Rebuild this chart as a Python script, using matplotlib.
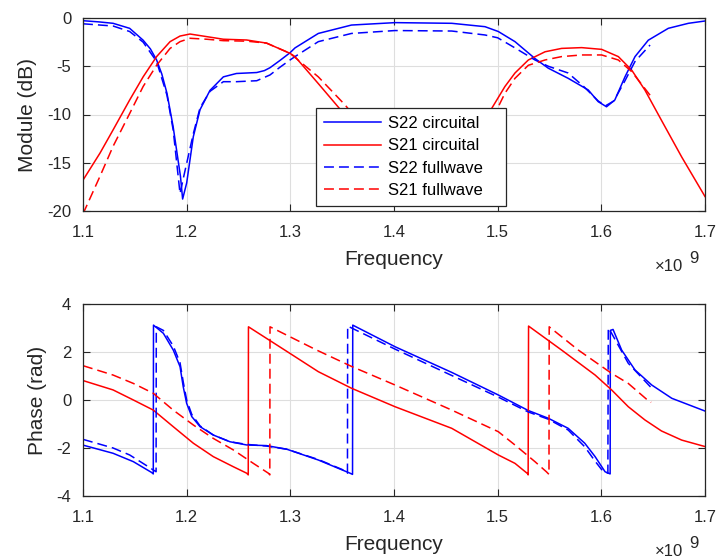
"""Two-panel S-parameter comparison: circuit model vs full-wave simulation."""

import matplotlib
matplotlib.use("Agg")
from matplotlib import pyplot as plt

# --- module (dB) ---
f_s22c = [1.100, 1.115, 1.129, 1.145, 1.158, 1.165, 1.171, 1.176, 1.181, 1.187, 1.194, 1.1961, 1.200, 1.2064, 1.2129, 1.2225,
          1.2354, 1.248, 1.258, 1.2676, 1.275, 1.2804, 1.290, 1.2997, 1.3045, 1.327, 1.359, 1.401, 1.4557, 1.4878, 1.5006,
          1.5167, 1.536, 1.5488, 1.568, 1.5874, 1.597, 1.605, 1.613, 1.6228, 1.6325, 1.6453, 1.6646, 1.684, 1.700]
s22c_db = [-0.28, -0.4, -0.55, -1.07, -2.3, -3.2, -4.35, -5.8, -7.8, -11.3, -16.4, -18.76, -17.1, -12.3, -9.5, -7.5,
           -6.1, -5.75, -5.7, -5.65, -5.45, -5.15, -4.4, -3.6, -3.1, -1.6, -0.73, -0.48, -0.55, -0.9, -1.4,
           -2.45, -4.2, -5.2, -6.25, -7.46, -8.67, -9.2, -8.5, -6.1, -4.0, -2.3, -1.07, -0.55, -0.31]

f_s21c = [1.100, 1.1164, 1.129, 1.145, 1.158, 1.171, 1.184, 1.1936, 1.2032, 1.2193, 1.2354, 1.2579, 1.277, 1.2997,
          1.3045, 1.327, 1.346, 1.37, 1.42, 1.47, 1.4943, 1.507, 1.5167, 1.5296, 1.5457, 1.5617, 1.581, 1.6003,
          1.6164, 1.6293, 1.642, 1.658, 1.6775, 1.700]
s21c_db = [-16.8, -14.0, -11.6, -8.5, -6.1, -4.0, -2.45, -1.87, -1.66, -1.93, -2.2, -2.28, -2.6, -3.66,
           -4.0, -6.8, -9.2, -12.2, -16.0, -13.0, -9.36, -7.1, -5.7, -4.35, -3.5, -3.15, -3.07, -3.25,
           -4.0, -5.4, -7.46, -10.6, -14.4, -18.5]

f_s22f = [1.100, 1.129, 1.145, 1.158, 1.171, 1.181, 1.187, 1.1936, 1.197, 1.2064, 1.2129, 1.2225, 1.2354, 1.248,
          1.2676, 1.2804, 1.290, 1.2997, 1.3045, 1.327, 1.359, 1.401, 1.4557, 1.4878, 1.500, 1.5167, 1.536, 1.5488,
          1.568, 1.583, 1.597, 1.604, 1.612, 1.6228, 1.6325, 1.647]
s22f_db = [-0.6, -0.83, -1.4, -2.5, -4.5, -8.0, -11.6, -18.2, -16.5, -12.0, -9.3, -7.6, -6.6, -6.6,
           -6.5, -5.9, -5.1, -4.35, -4.0, -2.45, -1.6, -1.3, -1.35, -1.76, -2.05, -3.1, -4.35, -5.0,
           -5.7, -7.1, -8.6, -9.1, -8.6, -6.5, -4.5, -2.8]

f_s21f = [1.100, 1.1164, 1.129, 1.145, 1.158, 1.171, 1.184, 1.1936, 1.2032, 1.2193, 1.2354, 1.2579, 1.277, 1.2997,
          1.327, 1.3527, 1.38, 1.42, 1.47, 1.5006, 1.507, 1.5167, 1.5296, 1.5457, 1.5617, 1.581, 1.6003, 1.6164,
          1.6293, 1.647]
s21f_db = [-20.3, -16.4, -13.3, -9.9, -7.1, -4.9, -3.15, -2.45, -2.1, -2.2, -2.35, -2.4, -2.6, -3.66,
           -6.1, -9.0, -12.5, -15.0, -12.5, -9.2, -7.8, -6.25, -4.9, -4.35, -4.0, -3.83, -3.83, -4.35,
           -5.56, -8.0]

# --- phase (rad) ---
f_p22c = [1.100, 1.129, 1.1486, 1.1662, 1.1678, 1.1680, 1.1775, 1.1871, 1.1936, 1.1967, 1.200, 1.2049, 1.2129,
          1.2257, 1.2418, 1.258, 1.277, 1.2965, 1.327, 1.3576, 1.3600, 1.3602, 1.401, 1.4557, 1.5006, 1.5296,
          1.5488, 1.568, 1.584, 1.594, 1.6036, 1.6085, 1.6087, 1.6113, 1.6196, 1.6325, 1.6486, 1.668, 1.700]
p22c = [-1.88, -2.22, -2.57, -3.02, -3.08, 3.12, 2.78, 2.08, 1.39, 0.55, -0.14, -0.69, -1.11,
        -1.46, -1.74, -1.875, -1.9, -2.05, -2.5, -3.05, -3.1, 3.12, 2.22, 1.15, 0.21, -0.44,
        -0.76, -1.18, -1.8, -2.36, -2.99, -3.08, 2.9, 2.94, 2.08, 1.25, 0.625, 0.07, -0.46]

f_p21c = [1.100, 1.129, 1.1486, 1.1678, 1.187, 1.2064, 1.2257, 1.245, 1.2579, 1.2594, 1.2596, 1.2997, 1.327, 1.359,
          1.401, 1.4557, 1.5006, 1.5167, 1.5292, 1.5294, 1.5298, 1.5617, 1.594, 1.6099, 1.626, 1.642, 1.658,
          1.6775, 1.700]
p21c = [0.81, 0.42, 0.0, -0.42, -1.11, -1.8, -2.36, -2.78, -3.05, -3.12, 3.05, 1.94, 1.18, 0.49,
        -0.28, -1.18, -2.29, -2.64, -3.08, -3.12, 3.08, 2.08, 1.04, 0.42, -0.28, -0.83, -1.29,
        -1.67, -1.94]

f_p22f = [1.100, 1.129, 1.145, 1.163, 1.1705, 1.1707, 1.1775, 1.1871, 1.1936, 1.1967, 1.200, 1.2049, 1.2129,
          1.2257, 1.2418, 1.258, 1.277, 1.2965, 1.327, 1.353, 1.3551, 1.3553, 1.401, 1.5006, 1.5296, 1.5488,
          1.568, 1.584, 1.594, 1.6003, 1.6063, 1.6067, 1.609, 1.626, 1.6486]
p22f = [-1.64, -2.0, -2.29, -2.78, -2.99, 3.05, 2.9, 2.25, 1.55, 0.75, 0.0, -0.6, -1.08,
        -1.46, -1.74, -1.85, -1.92, -2.05, -2.48, -2.95, -3.05, 3.08, 2.12, 0.12, -0.5, -0.8,
        -1.25, -1.95, -2.55, -2.9, -3.05, 3.0, 2.85, 1.53, 0.49]

f_p21f = [1.100, 1.129, 1.1486, 1.1678, 1.187, 1.2064, 1.2257, 1.245, 1.2643, 1.2788, 1.2802, 1.2804, 1.3254,
          1.359, 1.401, 1.4557, 1.5006, 1.5167, 1.536, 1.547, 1.5495, 1.5497, 1.5778, 1.6099, 1.626, 1.6437,
          1.648]
p21f = [1.43, 1.04, 0.69, 0.28, -0.42, -1.04, -1.6, -2.08, -2.64, -3.05, -3.12, 3.05, 2.08,
        1.4, 0.625, -0.42, -1.32, -1.875, -2.57, -2.99, -3.1, 3.05, 2.08, 1.11, 0.69, 0.03,
        -0.1]

freq_ticks = [1.1, 1.2, 1.3, 1.4, 1.5, 1.6, 1.7]
db_ticks = [-20, -15, -10, -5, 0]
rad_ticks = [-4, -2, 0, 2, 4]
labels = ["S22 circuital", "S21 circuital", "S22 fullwave", "S21 fullwave"]

AX_COLOR = "#262626"
plt.rcParams["font.family"] = ["Liberation Sans", "DejaVu Sans"]
plt.rcParams["axes.unicode_minus"] = False


def _style(ax, yticks, ylabel):
    ax.set_xlim(1.1, 1.7)
    ax.set_ylim(yticks[0], yticks[-1])
    ax.set_xticks(freq_ticks)
    ax.set_xticklabels([f"{t:.1f}" for t in freq_ticks])
    ax.set_yticks(yticks)
    ax.set_yticklabels([str(t) for t in yticks])
    ax.grid(color="#dedede", linewidth=0.8)
    ax.set_axisbelow(True)
    ax.tick_params(direction="in", length=5, width=0.8, colors=AX_COLOR, labelsize=12,
                   top=True, right=True, pad=8.5)
    ax.tick_params(axis="x", pad=10)
    for sp in ax.spines.values():
        sp.set_color(AX_COLOR); sp.set_linewidth(0.9)
    ax.set_xlabel("Frequency", fontsize=15, color=AX_COLOR, labelpad=7)
    ax.set_ylabel(ylabel, fontsize=15, color=AX_COLOR, labelpad=7)


def _draw(ax, series):
    handles = []
    for fx, vals, color, ls in series:
        line, = ax.plot(fx, vals, color=color, linewidth=1.1, linestyle=ls)
        if ls == "--":
            line.set_dashes((6.5, 3.3))
        handles.append(line)
    return handles


fig = plt.figure(figsize=(7.19, 5.58), dpi=100)
ax1 = fig.add_axes([83 / 719, 1 - 211 / 558, 622 / 719, 193 / 558])
ax2 = fig.add_axes([83 / 719, 1 - 496 / 558, 622 / 719, 192 / 558])

h = _draw(ax1, [(f_s22c, s22c_db, "#0000ff", "-"), (f_s21c, s21c_db, "#ff0000", "-"),
                (f_s22f, s22f_db, "#0000ff", "--"), (f_s21f, s21f_db, "#ff0000", "--")])
_draw(ax2, [(f_p22c, p22c, "#0000ff", "-"), (f_p21c, p21c, "#ff0000", "-"),
            (f_p22f, p22f, "#0000ff", "--"), (f_p21f, p21f, "#ff0000", "--")])
_style(ax1, db_ticks, "Module (dB)")
_style(ax2, rad_ticks, "Phase (rad)")

leg = ax1.legend(h, labels, loc="upper left", bbox_to_anchor=(0.3746, 0.031, 0.3055, 0.503), mode="expand",
                 fontsize=12, handlelength=3.4, handletextpad=0.4, labelspacing=0.43, borderpad=0.5,
                 borderaxespad=0, fancybox=False, framealpha=1, edgecolor="#262626")
leg.get_frame().set_linewidth(0.9)
leg.set_zorder(20)

# MATLAB style exponent marker under each x axis
for base_y, sup_y in [(271, 263), (556, 548)]:
    fig.text(655 / 719, 1 - base_y / 558, "\u00d710", fontsize=12, color=AX_COLOR, va="baseline")
    fig.text(689 / 719, 1 - sup_y / 558, "9", fontsize=12, color=AX_COLOR, va="baseline")

fig.savefig("out.png", dpi=100)
plt.close(fig)
